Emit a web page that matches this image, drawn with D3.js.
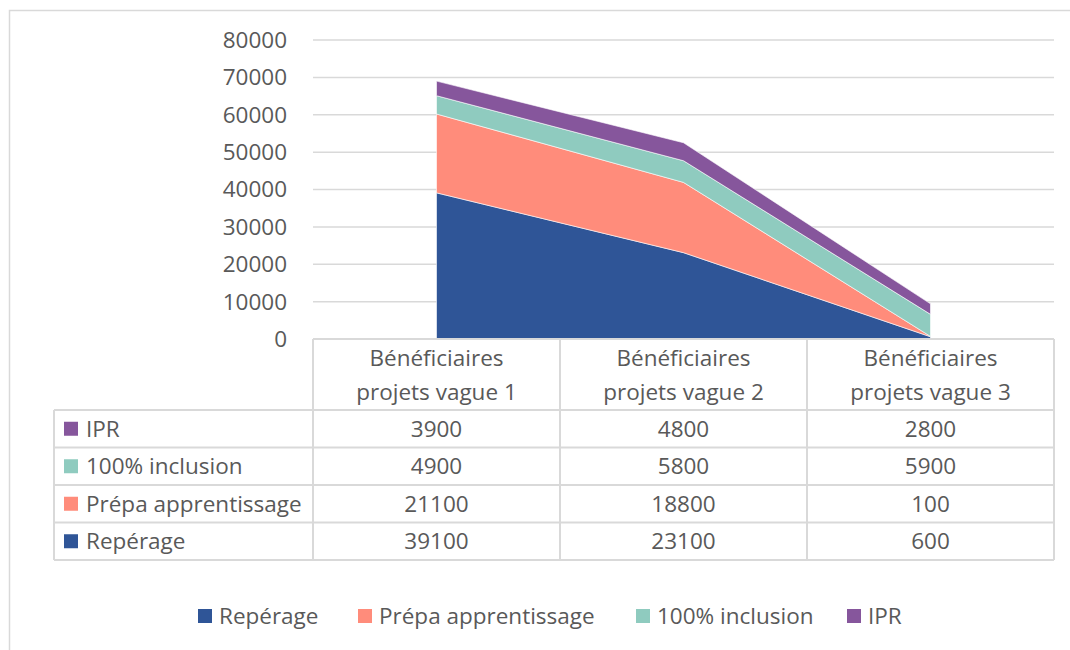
<!DOCTYPE html>
<html lang="fr">
<head>
<meta charset="UTF-8">
<title>Bénéficiaires par vague</title>
<script src="https://d3js.org/d3.v7.min.js"></script>
<style>
    body { margin: 0; background: #fff; }
    svg text { font-family: 'Open Sans', sans-serif; fill: #595959; }
</style>
</head>
<body>
<svg width="1070" height="650"></svg>
<script>
    // data
    const categories = ["Bénéficiaires projets vague 1", "Bénéficiaires projets vague 2", "Bénéficiaires projets vague 3"];
    const catLines = [["Bénéficiaires", "projets vague 1"], ["Bénéficiaires", "projets vague 2"], ["Bénéficiaires", "projets vague 3"]];
    const seriesNames = ["Repérage", "Prépa apprentissage", "100% inclusion", "IPR"];
    const reperage = [39100, 23100, 600];
    const prepa = [21100, 18800, 100];
    const inclusion = [4900, 5800, 5900];
    const ipr = [3900, 4800, 2800];
    const yTicks = [0, 10000, 20000, 30000, 40000, 50000, 60000, 70000, 80000];
    const colors = ["#2f5597", "#ff8c7b", "#8fcbbf", "#86569c"];

    const values = [reperage, prepa, inclusion, ipr];
    const rows = categories.map((c, i) => {
        const r = { cat: c };
        seriesNames.forEach((s, j) => r[s] = values[j][i]);
        return r;
    });

    const svg = d3.select("svg");
    const plotL = 313, plotR = 1054, plotT = 40, plotB = 339;
    const grey = "#d9d9d9";
    const fs = "22.5px";

    // chart border (clipped on right/bottom)
    svg.append("rect").attr("x", 9.5).attr("y", 10.5).attr("width", 1100).attr("height", 700)
        .attr("fill", "none").attr("stroke", grey).attr("stroke-width", 1.5);

    const x = d3.scalePoint().domain(categories).range([plotL, plotR]).padding(0.5);
    const y = d3.scaleLinear().domain([0, 80000]).range([plotB, plotT]);

    // gridlines
    svg.append("g").selectAll("line").data(yTicks.filter(d => d > 0)).join("line")
        .attr("x1", plotL).attr("x2", plotR)
        .attr("y1", d => y(d)).attr("y2", d => y(d))
        .attr("stroke", grey).attr("stroke-width", 1.5);

    // y axis labels
    svg.append("g").selectAll("text").data(yTicks).join("text")
        .attr("x", 287).attr("y", d => y(d)).attr("dy", "0.35em")
        .attr("text-anchor", "end").style("font-size", fs)
        .text(d => d);

    // stacked areas
    const stack = d3.stack().keys(seriesNames)(rows);
    const area = d3.area()
        .x(d => x(d.data.cat))
        .y0(d => y(d[0]))
        .y1(d => y(d[1]));
    svg.append("g").selectAll("path").data(stack).join("path")
        .attr("d", area)
        .attr("fill", (d, i) => colors[i])
        .attr("stroke", "#fff").attr("stroke-width", 0.6);

    // data table
    const colW = x.step();
    const tableLeft = 54;
    const headerTop = 339, headerBottom = 410, rowH = 37.5;
    const tbl = svg.append("g");
    const nRows = seriesNames.length;
    const tableBottom = headerBottom + nRows * rowH;

    tbl.append("line").attr("x1", plotL).attr("x2", plotR).attr("y1", headerTop).attr("y2", headerTop)
        .attr("stroke", grey).attr("stroke-width", 2);
    d3.range(nRows + 1).forEach(i => {
        const yy = headerBottom + i * rowH;
        tbl.append("line").attr("x1", tableLeft).attr("x2", plotR).attr("y1", yy).attr("y2", yy)
            .attr("stroke", grey).attr("stroke-width", 2);
    });
    tbl.append("line").attr("x1", tableLeft).attr("x2", tableLeft).attr("y1", headerBottom).attr("y2", tableBottom)
        .attr("stroke", grey).attr("stroke-width", 2);
    d3.range(categories.length + 1).forEach(i => {
        const xx = plotL + i * colW;
        tbl.append("line").attr("x1", xx).attr("x2", xx).attr("y1", headerTop).attr("y2", tableBottom)
            .attr("stroke", grey).attr("stroke-width", 2);
    });

    // header text
    categories.forEach((c, i) => {
        catLines[i].forEach((ln, k) => {
            tbl.append("text").attr("x", x(c)).attr("y", 366 + k * 34)
                .attr("text-anchor", "middle").style("font-size", fs).text(ln);
        });
    });

    // rows, top-down in reverse series order
    const tableOrder = seriesNames.map((s, j) => j).reverse();
    tableOrder.forEach((j, r) => {
        const cy = headerBottom + r * rowH + rowH / 2;
        tbl.append("rect").attr("x", 64).attr("y", cy - 7).attr("width", 14).attr("height", 14)
            .attr("fill", colors[j]);
        tbl.append("text").attr("x", 86).attr("y", cy).attr("dy", "0.35em")
            .style("font-size", fs).text(seriesNames[j]);
        categories.forEach((c, i) => {
            tbl.append("text").attr("x", x(c)).attr("y", cy).attr("dy", "0.35em")
                .attr("text-anchor", "middle").style("font-size", fs).text(values[j][i]);
        });
    });

    // legend
    const legendX = [198, 358, 636, 847];
    const lg = svg.append("g");
    seriesNames.forEach((s, j) => {
        lg.append("rect").attr("x", legendX[j]).attr("y", 609).attr("width", 14).attr("height", 14)
            .attr("fill", colors[j]);
        lg.append("text").attr("x", legendX[j] + 21).attr("y", 616).attr("dy", "0.35em")
            .style("font-size", fs).text(s);
    });
</script>
</body>
</html>
